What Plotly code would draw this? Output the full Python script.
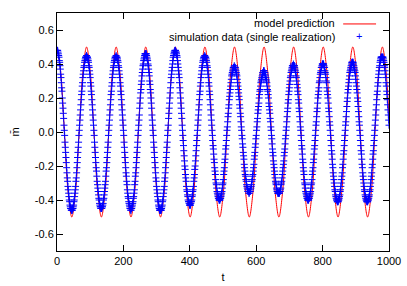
import plotly.graph_objects as go

# ---------------- data ----------------
# model prediction (sampled every 1/8 period, drawn as a smooth spline)
model_t = [0, 11.1, 22.3, 33.4, 44.6, 55.7, 66.8, 78.0, 89.1, 100.2, 111.4, 122.5, 133.7, 144.8, 155.9, 167.1,
           178.2, 189.3, 200.5, 211.6, 222.8, 233.9, 245.0, 256.2, 267.3, 278.4, 289.6, 300.7, 311.9, 323.0,
           334.1, 345.3, 356.4, 367.5, 378.7, 389.8, 401.0, 412.1, 423.2, 434.4, 445.5, 456.6, 467.8, 478.9,
           490.1, 501.2, 512.3, 523.5, 534.6, 545.7, 556.9, 568.0, 579.2, 590.3, 601.4, 612.6, 623.7, 634.8,
           646.0, 657.1, 668.3, 679.4, 690.5, 701.7, 712.8, 723.9, 735.1, 746.2, 757.4, 768.5, 779.6, 790.8,
           801.9, 813.0, 824.2, 835.3, 846.5, 857.6, 868.7, 879.9, 891.0, 902.1, 913.3, 924.4, 935.6, 946.7,
           957.8, 969.0, 980.1, 991.2, 1000]
model_m = [0.5, 0.354, 0, -0.354, -0.5, -0.354, 0, 0.354,
           0.5, 0.354, 0, -0.354, -0.5, -0.354, 0, 0.354,
           0.5, 0.354, 0, -0.354, -0.5, -0.354, 0, 0.354,
           0.5, 0.354, 0, -0.354, -0.5, -0.354, 0, 0.354,
           0.5, 0.354, 0, -0.354, -0.5, -0.354, 0, 0.354,
           0.5, 0.354, 0, -0.354, -0.5, -0.354, 0, 0.354,
           0.5, 0.354, 0, -0.354, -0.5, -0.354, 0, 0.354,
           0.5, 0.354, 0, -0.354, -0.5, -0.354, 0, 0.354,
           0.5, 0.354, 0, -0.354, -0.5, -0.354, 0, 0.354,
           0.5, 0.354, 0, -0.354, -0.5, -0.354, 0, 0.354,
           0.5, 0.354, 0, -0.354, -0.5, -0.354, 0, 0.354,
           0.5, 0.354, 0.08]

# simulation data (single realization), one value per unit of t, split into half-cycles
sim_p00 = [0.48,0.48,0.48,0.47,0.46,0.45,0.44,0.42,0.41,0.39,0.37,0.34,0.32,0.29,0.26,0.24,0.20,0.17,0.14,0.11,0.08,0.04,0.01]
sim_t00 = [-0.02,-0.06,-0.09,-0.12,-0.15,-0.18,-0.21,-0.24,-0.27,-0.29,-0.32,-0.34,-0.36,-0.38,-0.40,-0.41,-0.43,-0.44,-0.45,-0.45,-0.46,-0.46,
           -0.46,-0.46,-0.45,-0.45,-0.44,-0.43,-0.41,-0.40,-0.38,-0.36,-0.34,-0.32,-0.29,-0.27,-0.24,-0.21,-0.18,-0.15,-0.12,-0.09,-0.06,-0.02]
sim_p01 = [0.01,0.04,0.07,0.10,0.13,0.16,0.19,0.22,0.24,0.27,0.29,0.32,0.34,0.36,0.38,0.39,0.41,0.42,0.43,0.44,0.44,0.44,0.45,
           0.44,0.44,0.44,0.43,0.42,0.41,0.39,0.38,0.36,0.34,0.32,0.29,0.27,0.24,0.22,0.19,0.16,0.13,0.10,0.07,0.04,0.01]
sim_t01 = [-0.02,-0.06,-0.09,-0.12,-0.15,-0.18,-0.21,-0.23,-0.26,-0.29,-0.31,-0.33,-0.35,-0.37,-0.39,-0.40,-0.42,-0.43,-0.44,-0.44,-0.45,-0.45,
           -0.45,-0.45,-0.44,-0.44,-0.43,-0.42,-0.40,-0.39,-0.37,-0.35,-0.33,-0.31,-0.29,-0.26,-0.23,-0.21,-0.18,-0.15,-0.12,-0.09,-0.06,-0.02]
sim_p02 = [0.01,0.04,0.07,0.10,0.13,0.16,0.19,0.22,0.24,0.27,0.29,0.32,0.34,0.36,0.38,0.39,0.41,0.42,0.43,0.44,0.44,0.44,0.45,
           0.44,0.44,0.44,0.43,0.42,0.41,0.39,0.38,0.36,0.34,0.32,0.29,0.27,0.24,0.22,0.19,0.16,0.13,0.10,0.07,0.04,0.01]
sim_t02 = [-0.02,-0.06,-0.09,-0.12,-0.15,-0.18,-0.21,-0.24,-0.26,-0.29,-0.31,-0.34,-0.36,-0.38,-0.39,-0.41,-0.42,-0.43,-0.44,-0.45,-0.45,-0.46,
           -0.46,-0.45,-0.45,-0.44,-0.43,-0.42,-0.41,-0.39,-0.38,-0.36,-0.34,-0.31,-0.29,-0.26,-0.24,-0.21,-0.18,-0.15,-0.12,-0.09,-0.06,-0.02]
sim_p03 = [0.01,0.04,0.07,0.10,0.14,0.17,0.20,0.23,0.25,0.28,0.30,0.33,0.35,0.37,0.39,0.40,0.42,0.43,0.44,0.45,0.46,0.46,0.46,
           0.46,0.46,0.45,0.44,0.43,0.42,0.40,0.39,0.37,0.35,0.33,0.30,0.28,0.25,0.23,0.20,0.17,0.14,0.10,0.07,0.04,0.01]
sim_t03 = [-0.02,-0.06,-0.09,-0.12,-0.15,-0.18,-0.21,-0.24,-0.27,-0.29,-0.32,-0.34,-0.36,-0.38,-0.40,-0.41,-0.43,-0.44,-0.45,-0.46,-0.46,-0.46,
           -0.46,-0.46,-0.46,-0.45,-0.44,-0.43,-0.41,-0.40,-0.38,-0.36,-0.34,-0.32,-0.29,-0.27,-0.24,-0.21,-0.18,-0.15,-0.12,-0.09,-0.06,-0.02]
sim_p04 = [0.01,0.04,0.08,0.11,0.14,0.17,0.20,0.23,0.26,0.29,0.32,0.34,0.36,0.38,0.40,0.42,0.44,0.45,0.46,0.47,0.47,0.48,0.48,
           0.48,0.47,0.47,0.46,0.45,0.44,0.42,0.40,0.38,0.36,0.34,0.32,0.29,0.26,0.23,0.20,0.17,0.14,0.11,0.08,0.04,0.01]
sim_t04 = [-0.02,-0.05,-0.08,-0.11,-0.14,-0.17,-0.20,-0.22,-0.25,-0.27,-0.29,-0.32,-0.34,-0.35,-0.37,-0.38,-0.40,-0.41,-0.41,-0.42,-0.43,-0.43,
           -0.43,-0.43,-0.42,-0.41,-0.41,-0.40,-0.38,-0.37,-0.35,-0.34,-0.32,-0.29,-0.27,-0.25,-0.22,-0.20,-0.17,-0.14,-0.11,-0.08,-0.05,-0.02]
sim_p05 = [0.01,0.04,0.07,0.10,0.13,0.16,0.19,0.22,0.24,0.27,0.29,0.32,0.34,0.36,0.38,0.39,0.41,0.42,0.43,0.44,0.44,0.44,0.45,
           0.44,0.44,0.44,0.43,0.42,0.41,0.39,0.38,0.36,0.34,0.32,0.29,0.27,0.24,0.22,0.19,0.16,0.13,0.10,0.07,0.04,0.01]
sim_t05 = [-0.02,-0.05,-0.08,-0.10,-0.13,-0.16,-0.18,-0.21,-0.23,-0.25,-0.28,-0.30,-0.31,-0.33,-0.35,-0.36,-0.37,-0.38,-0.39,-0.39,-0.40,-0.40,
           -0.40,-0.40,-0.39,-0.39,-0.38,-0.37,-0.36,-0.35,-0.33,-0.31,-0.30,-0.28,-0.25,-0.23,-0.21,-0.18,-0.16,-0.13,-0.10,-0.08,-0.05,-0.02]
sim_p06 = [0.01,0.03,0.06,0.09,0.11,0.14,0.16,0.19,0.21,0.23,0.25,0.27,0.29,0.31,0.33,0.34,0.35,0.36,0.37,0.38,0.38,0.38,0.39,
           0.38,0.38,0.38,0.37,0.36,0.35,0.34,0.33,0.31,0.29,0.27,0.25,0.23,0.21,0.19,0.16,0.14,0.11,0.09,0.06,0.03,0.01]
sim_t06 = [-0.02,-0.04,-0.07,-0.09,-0.12,-0.14,-0.16,-0.19,-0.21,-0.23,-0.25,-0.26,-0.28,-0.29,-0.31,-0.32,-0.33,-0.34,-0.35,-0.35,-0.35,-0.36,
           -0.36,-0.35,-0.35,-0.35,-0.34,-0.33,-0.32,-0.31,-0.29,-0.28,-0.26,-0.25,-0.23,-0.21,-0.19,-0.16,-0.14,-0.12,-0.09,-0.07,-0.04,-0.02]
sim_p07 = [0.01,0.03,0.06,0.08,0.11,0.13,0.15,0.17,0.20,0.22,0.24,0.25,0.27,0.29,0.30,0.31,0.32,0.33,0.34,0.35,0.35,0.36,0.36,
           0.36,0.35,0.35,0.34,0.33,0.32,0.31,0.30,0.29,0.27,0.25,0.24,0.22,0.20,0.17,0.15,0.13,0.11,0.08,0.06,0.03,0.01]
sim_t07 = [-0.02,-0.04,-0.07,-0.10,-0.12,-0.14,-0.17,-0.19,-0.21,-0.23,-0.25,-0.27,-0.29,-0.30,-0.31,-0.33,-0.34,-0.35,-0.35,-0.36,-0.36,-0.36,
           -0.36,-0.36,-0.36,-0.35,-0.35,-0.34,-0.33,-0.31,-0.30,-0.29,-0.27,-0.25,-0.23,-0.21,-0.19,-0.17,-0.14,-0.12,-0.10,-0.07,-0.04,-0.02]
sim_p08 = [0.01,0.03,0.06,0.09,0.12,0.14,0.17,0.19,0.22,0.24,0.26,0.28,0.30,0.32,0.33,0.35,0.36,0.37,0.38,0.39,0.39,0.39,0.40,
           0.39,0.39,0.39,0.38,0.37,0.36,0.35,0.33,0.32,0.30,0.28,0.26,0.24,0.22,0.19,0.17,0.14,0.12,0.09,0.06,0.03,0.01]
sim_t08 = [-0.02,-0.05,-0.08,-0.10,-0.13,-0.16,-0.18,-0.21,-0.23,-0.25,-0.28,-0.30,-0.31,-0.33,-0.35,-0.36,-0.37,-0.38,-0.39,-0.39,-0.40,-0.40,
           -0.40,-0.40,-0.39,-0.39,-0.38,-0.37,-0.36,-0.35,-0.33,-0.31,-0.30,-0.28,-0.25,-0.23,-0.21,-0.18,-0.16,-0.13,-0.10,-0.08,-0.05,-0.02]
sim_p09 = [0.01,0.04,0.06,0.09,0.12,0.14,0.17,0.20,0.22,0.24,0.26,0.29,0.30,0.32,0.34,0.35,0.36,0.38,0.38,0.39,0.40,0.40,0.40,
           0.40,0.40,0.39,0.38,0.38,0.36,0.35,0.34,0.32,0.30,0.29,0.26,0.24,0.22,0.20,0.17,0.14,0.12,0.09,0.06,0.04,0.01]
sim_t09 = [-0.02,-0.05,-0.08,-0.11,-0.13,-0.16,-0.19,-0.21,-0.24,-0.26,-0.28,-0.30,-0.32,-0.34,-0.35,-0.37,-0.38,-0.39,-0.40,-0.40,-0.41,-0.41,
           -0.41,-0.41,-0.40,-0.40,-0.39,-0.38,-0.37,-0.35,-0.34,-0.32,-0.30,-0.28,-0.26,-0.24,-0.21,-0.19,-0.16,-0.13,-0.11,-0.08,-0.05,-0.02]
sim_p10 = [0.01,0.04,0.06,0.09,0.12,0.15,0.18,0.20,0.23,0.25,0.27,0.29,0.31,0.33,0.35,0.36,0.37,0.38,0.39,0.40,0.41,0.41,0.41,
           0.41,0.41,0.40,0.39,0.38,0.37,0.36,0.35,0.33,0.31,0.29,0.27,0.25,0.23,0.20,0.18,0.15,0.12,0.09,0.06,0.04,0.01]
sim_t10 = [-0.02,-0.05,-0.08,-0.11,-0.13,-0.16,-0.19,-0.21,-0.24,-0.26,-0.28,-0.30,-0.32,-0.34,-0.35,-0.37,-0.38,-0.39,-0.40,-0.40,-0.41,-0.41,
           -0.41,-0.41,-0.40,-0.40,-0.39,-0.38,-0.37,-0.35,-0.34,-0.32,-0.30,-0.28,-0.26,-0.24,-0.21,-0.19,-0.16,-0.13,-0.11,-0.08,-0.05,-0.02]
sim_p11 = [0.01,0.04,0.07,0.10,0.13,0.16,0.19,0.22,0.24,0.27,0.29,0.32,0.34,0.36,0.38,0.39,0.41,0.42,0.43,0.44,0.44,0.44,
           0.44,0.44,0.44,0.44,0.43,0.42,0.41,0.39,0.38,0.36,0.34,0.32,0.29,0.27,0.24,0.22,0.19,0.16,0.13,0.10,0.07,0.04]

sim_m = (sim_p00 + sim_t00 + sim_p01 + sim_t01 + sim_p02 + sim_t02 + sim_p03 + sim_t03 +
         sim_p04 + sim_t04 + sim_p05 + sim_t05 + sim_p06 + sim_t06 + sim_p07 + sim_t07 +
         sim_p08 + sim_t08 + sim_p09 + sim_t09 + sim_p10 + sim_t10 + sim_p11)
sim_t = list(range(len(sim_m)))  # t = 0, 1, ..., 1000

x_ticks = [0, 200, 400, 600, 800, 1000]
y_ticks = [-0.6, -0.4, -0.2, 0.0, 0.2, 0.4, 0.6]
legend_labels = ["model prediction", "simulation data (single realization)"]

# ---------------- figure ----------------
FONT = "Liberation Sans, Arial, Helvetica, sans-serif"
fig = go.Figure()
fig.add_trace(go.Scatter(x=model_t, y=model_m, mode="lines", name=legend_labels[0],
                         line=dict(color="#ff0000", width=1, shape="spline", smoothing=1.0),
                         showlegend=False))
fig.add_trace(go.Scatter(x=sim_t, y=sim_m, mode="markers", name=legend_labels[1],
                         marker=dict(symbol="cross-thin", size=5, line=dict(color="#0000ff", width=1)),
                         showlegend=False))

axis_common = dict(showline=True, linecolor="black", linewidth=1, mirror="allticks",
                   ticks="inside", ticklen=6, tickcolor="black", tickwidth=1,
                   showgrid=False, zeroline=False, automargin=False,
                   tickfont=dict(family=FONT, size=11, color="black"))
fig.update_xaxes(range=[0, 1000], tickvals=x_ticks, ticktext=[str(v) for v in x_ticks],
                 title=dict(text="t", font=dict(family=FONT, size=11, color="black"), standoff=7),
                 **axis_common)
fig.update_yaxes(range=[-0.7, 0.7], tickvals=y_ticks, ticktext=[f"{v:.1f}" for v in y_ticks],
                 title=dict(text="m̄", font=dict(family=FONT, size=11, color="black"), standoff=12),
                 **axis_common)

# gnuplot-style key: right-aligned text with the sample to its right
fig.add_annotation(x=0.842, y=0.956, xref="paper", yref="paper", text=legend_labels[0],
                   showarrow=False, xanchor="right", yanchor="middle",
                   font=dict(family=FONT, size=11, color="black"))
fig.add_annotation(x=0.842, y=0.901, xref="paper", yref="paper", text=legend_labels[1],
                   showarrow=False, xanchor="right", yanchor="middle",
                   font=dict(family=FONT, size=11, color="black"))
fig.add_shape(type="line", xref="paper", yref="paper", x0=0.862, x1=0.961, y0=0.954, y1=0.954,
              line=dict(color="#ff0000", width=1))
fig.add_annotation(x=0.910, y=0.903, xref="paper", yref="paper", text="+",
                   showarrow=False, xanchor="center", yanchor="middle",
                   font=dict(family=FONT, size=11, color="#0000ff"))

fig.update_layout(width=407, height=286, margin=dict(l=57, r=18, t=13, b=35, autoexpand=False),
                  paper_bgcolor="white", plot_bgcolor="white",
                  font=dict(family=FONT, size=11, color="black"))

fig.write_html("out.html", config={"displayModeBar": False},
               post_script="document.body.style.margin='0';document.body.style.padding='0';")
